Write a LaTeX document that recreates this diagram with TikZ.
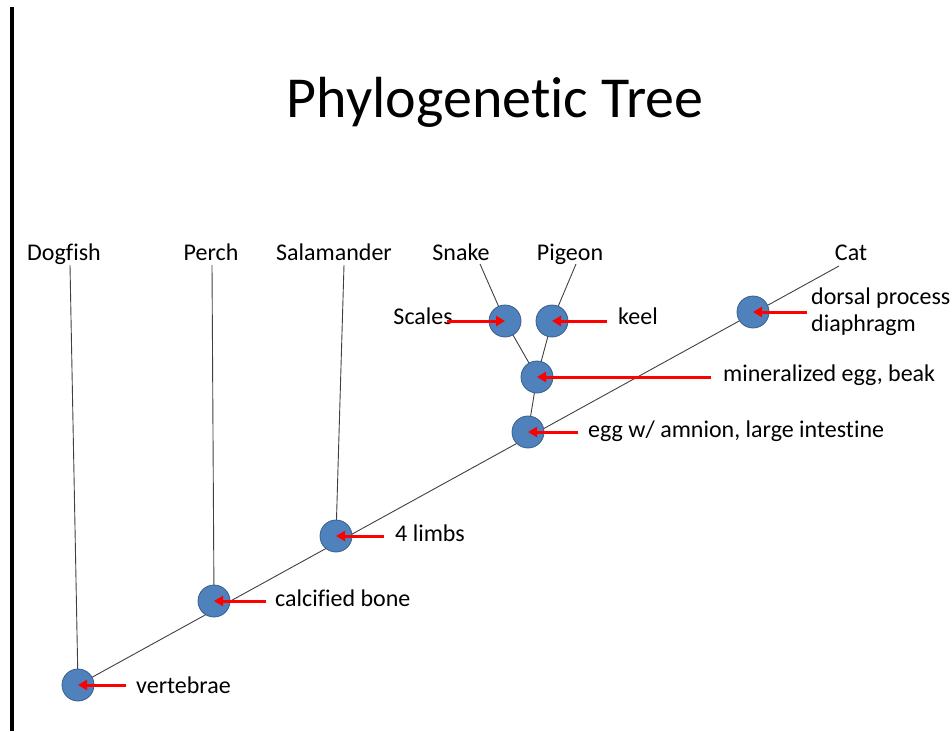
\documentclass[tikz,border=0pt]{standalone}
\usepackage{fontspec}
\setmainfont[Ligatures=NoCommon]{Carlito}
\usetikzlibrary{arrows.meta,backgrounds}
\definecolor{nodefill}{HTML}{4F81BD}
\definecolor{nodeedge}{HTML}{385D8A}
\definecolor{branch}{HTML}{404040}
\tikzset{
  trait/.style={circle,fill=nodefill,draw=nodeedge,line width=0.8pt,minimum size=32pt,inner sep=0pt},
  taxon/.style={font=\fontsize{24}{28}\selectfont,inner sep=0pt,anchor=base},
  note/.style={font=\fontsize{24}{28}\selectfont,inner sep=0pt,anchor=base west},
  branchline/.style={draw=branch,line width=0.9pt},
  pointer/.style={draw=red,line width=3pt,-{Triangle[length=9pt,width=10pt]}}
}
\begin{document}
\begin{tikzpicture}[x=1pt,y=-1pt]
  \useasboundingbox (0,0) rectangle (952,731);
  % left margin rule
  \fill[black] (10,7) rectangle (14,731);
  % title
  \node[font=\fontsize{58}{64}\selectfont,inner sep=0pt,anchor=base] (title) at (495,117) {Phylogenetic Tree};

  % trait nodes
  \node[trait] (vert) at (78,685) {};
  \node[trait] (bone) at (214,601) {};
  \node[trait] (limb) at (336,536) {};
  \node[trait] (amni) at (528,432) {};
  \node[trait] (mine) at (537,377) {};
  \node[trait] (scal) at (505,321) {};
  \node[trait] (keel) at (552,321) {};
  \node[trait] (dors) at (753,312) {};

  % taxa
  \node[taxon] (dog) at (64,260) {Dogfish};
  \node[taxon] (per) at (211,260) {Perch};
  \node[taxon] (sal) at (334,260) {Salamander};
  \node[taxon] (sna) at (461,260) {Snake};
  \node[taxon] (pig) at (570,260) {Pigeon};
  \node[taxon] (cat) at (851,260) {Cat};

  % branch tips
  \coordinate (tdog) at (70,265);
  \coordinate (tper) at (212,265);
  \coordinate (tsal) at (344,265);
  \coordinate (tsna) at (480,264);
  \coordinate (tpig) at (576,264);
  \coordinate (tcat) at (839,266);

  \begin{scope}[on background layer]
    \draw[branchline] (vert.center) -- (tcat);
    \draw[branchline] (vert.center) -- (tdog);
    \draw[branchline] (bone.center) -- (tper);
    \draw[branchline] (limb.center) -- (tsal);
    \draw[branchline] (amni.center) -- (mine.center);
    \draw[branchline] (mine.center) -- (scal.center);
    \draw[branchline] (mine.center) -- (keel.center);
    \draw[branchline] (scal.center) -- (tsna);
    \draw[branchline] (keel.center) -- (tpig);
  \end{scope}

  % trait labels
  \node[note] (lvert) at (136,693) {vertebrae};
  \node[note] (lbone) at (275,606) {calcified bone};
  \node[note] (llimb) at (395,541) {4 limbs};
  \node[note] (lamni) at (588,437) {egg w/ amnion, large intestine};
  \node[note] (lmine) at (723,381) {mineralized egg, beak};
  \node[note] (lkeel) at (618,324) {keel};
  \node[note,anchor=base east] (lscal) at (453,324) {Scales};
  \node[note] (ldors) at (811,304) {dorsal process};
  \node[note] (ldia) at (811,331) {diaphragm};

  % pointer tails
  \coordinate (pvert) at (126,685);
  \coordinate (pbone) at (266,601);
  \coordinate (plimb) at (384,536);
  \coordinate (pamni) at (578,432);
  \coordinate (pmine) at (711,377);
  \coordinate (pkeel) at (607,321);
  \coordinate (pscal) at (447,321);
  \coordinate (pdors) at (807,312);

  \draw[pointer] (pvert) -- (vert.center);
  \draw[pointer] (pbone) -- (bone.center);
  \draw[pointer] (plimb) -- (limb.center);
  \draw[pointer] (pamni) -- (amni.center);
  \draw[pointer] (pmine) -- (mine.center);
  \draw[pointer] (pkeel) -- (keel.center);
  \draw[pointer] (pscal) -- (scal.center);
  \draw[pointer] (pdors) -- (dors.center);
\end{tikzpicture}
\end{document}
